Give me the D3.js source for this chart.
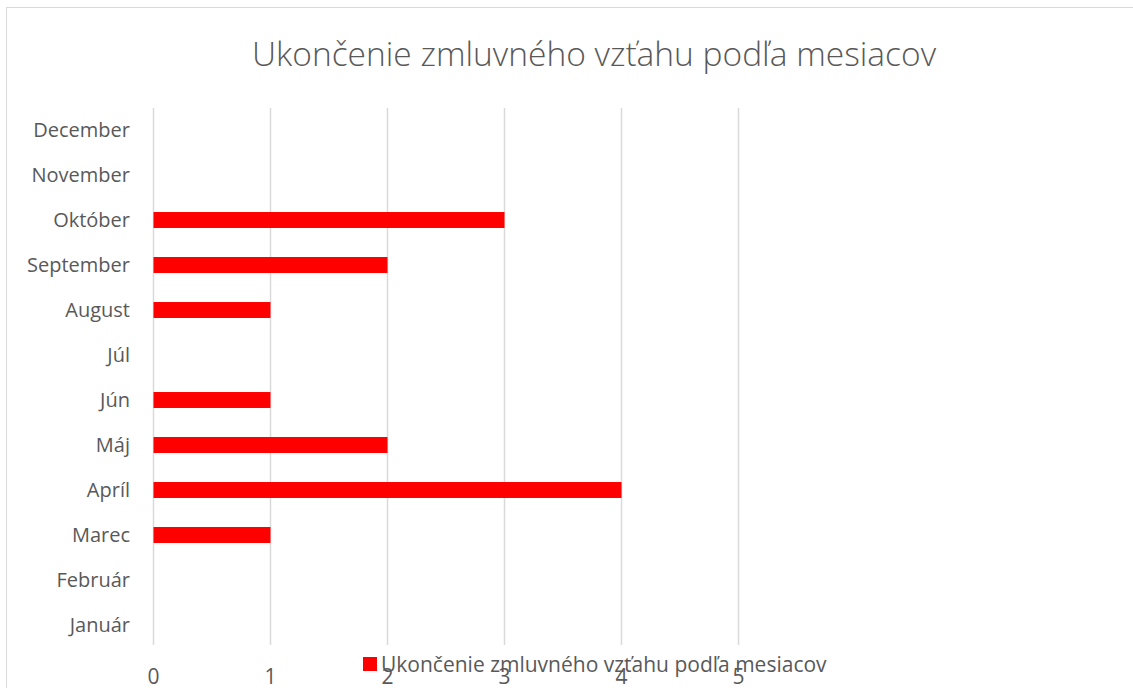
<!DOCTYPE html>
<html>
<head>
<meta charset="utf-8">
<script src="https://cdn.jsdelivr.net/npm/d3@7"></script>
<style>
	body { margin: 0; background: #fff; }
	text { font-family: "Open Sans", sans-serif; fill: #595959; }
</style>
</head>
<body>
<div id="chart-area"></div>
<script>
// data
const months = ["Január", "Február", "Marec", "Apríl", "Máj ", "Jún", "Júl", "August", "September", "Október", "November", "December"]
const counts = [0, 0, 1, 4, 2, 1, 0, 1, 2, 3, 0, 0]
const xTicks = [0, 1, 2, 3, 4, 5]
const title = "Ukončenie zmluvného vzťahu podľa mesiacov"
const seriesName = "Ukončenie zmluvného vzťahu podľa mesiacov"

const data = months.map((m, i) => ({ month: m, value: counts[i] }))

const width = 1133, height = 688

const svg = d3.select("#chart-area").append("svg")
	.attr("width", width)
	.attr("height", height)

// chart frame
svg.append("rect")
	.attr("x", 6.5).attr("y", 7.5)
	.attr("width", width + 20).attr("height", height + 20)
	.attr("fill", "#fff")
	.attr("stroke", "#d9d9d9")

const x = d3.scaleLinear()
	.domain([0, 5])
	.range([153.5, 738.5])

// first month at the bottom
const y = d3.scaleBand()
	.domain(months.slice().reverse())
	.range([107.5, 647.5])
	.paddingInner(0.645)
	.paddingOuter(0.3225)

// gridlines
svg.append("g")
	.selectAll("line")
	.data(xTicks)
	.enter().append("line")
	.attr("x1", d => x(d)).attr("x2", d => x(d))
	.attr("y1", 108).attr("y2", 645)
	.attr("stroke", "#d9d9d9")
	.attr("stroke-width", 1.5)

// bars
svg.append("g")
	.selectAll("rect")
	.data(data)
	.enter().append("rect")
	.attr("x", x(0))
	.attr("y", d => y(d.month))
	.attr("width", d => x(d.value) - x(0))
	.attr("height", y.bandwidth())
	.attr("fill", "#ff0000")

// category labels
svg.append("g")
	.selectAll("text")
	.data(months)
	.enter().append("text")
	.attr("x", 130)
	.attr("y", d => y(d) + y.bandwidth() / 2)
	.attr("dy", "0.35em")
	.attr("text-anchor", "end")
	.style("font-size", "20px")
	.text(d => d)

// value axis labels
svg.append("g")
	.selectAll("text")
	.data(xTicks)
	.enter().append("text")
	.attr("x", d => x(d))
	.attr("y", 677)
	.attr("dy", "0.35em")
	.attr("text-anchor", "middle")
	.style("font-size", "21px")
	.text(d => d)

// title
svg.append("text")
	.attr("x", 594)
	.attr("y", 66)
	.attr("text-anchor", "middle")
	.style("font-size", "33.5px")
	.style("font-weight", 300)
	.text(title)

// legend
svg.append("rect")
	.attr("x", 363).attr("y", 657)
	.attr("width", 14).attr("height", 14)
	.attr("fill", "#ff0000")

svg.append("text")
	.attr("x", 381)
	.attr("y", 672)
	.style("font-size", "21px")
	.text(seriesName)
</script>
</body>
</html>
